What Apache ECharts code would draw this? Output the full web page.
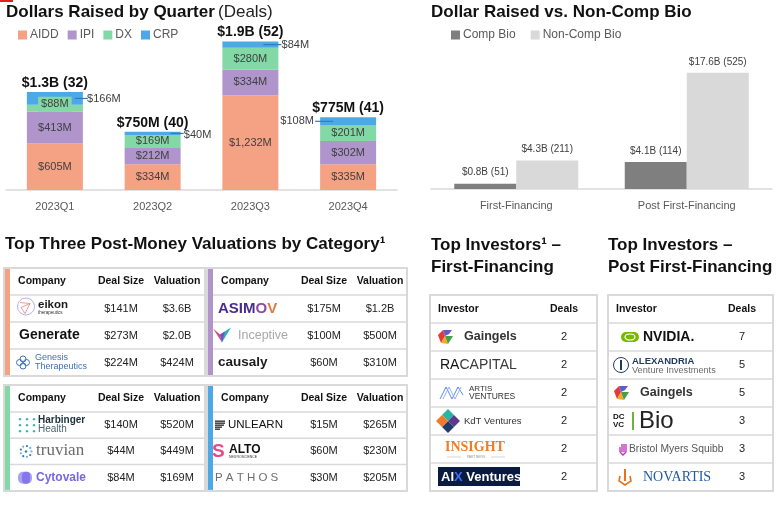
<!DOCTYPE html>
<html><head><meta charset="utf-8">
<script src="https://cdn.jsdelivr.net/npm/echarts@6/dist/echarts.min.js"></script>
<style>html,body{margin:0;padding:0;background:#fff}#c{width:782px;height:505px}</style>
</head><body><div id="c"></div>
<script>
// ---------- DATA ----------
const quarters = ['2023Q1', '2023Q2', '2023Q3', '2023Q4'];
const aidd = [605, 334, 1232, 335];
const ipi = [413, 212, 334, 302];
const dx = [88, 169, 280, 201];
const crp = [166, 40, 84, 108];
const quarterTotals = ['$1.3B (32)', '$750M (40)', '$1.9B (52)', '$775M (41)'];

const finCats = ['First-Financing', 'Post First-Financing'];
const compBio = [0.8, 4.1];
const nonCompBio = [4.3, 17.6];
const compBioLabels = ['$0.8B (51)', '$4.1B (114)'];
const nonCompBioLabels = ['$4.3B (211)', '$17.6B (525)'];

const aiddRows = [['eikon', '$141M', '$3.6B'], ['Generate', '$273M', '$2.0B'], ['Genesis', '$224M', '$424M']];
const ipiRows = [['ASIMOV', '$175M', '$1.2B'], ['Inceptive', '$100M', '$500M'], ['causaly', '$60M', '$310M']];
const dxRows = [['Harbinger', '$140M', '$520M'], ['truvian', '$44M', '$449M'], ['Cytovale', '$84M', '$169M']];
const crpRows = [['UNLEARN', '$15M', '$265M'], ['ALTO', '$60M', '$230M'], ['PATHOS', '$30M', '$205M']];
const firstInvestors = ['Gaingels', 'RACAPITAL', 'ARTIS', 'KdT', 'INSIGHT', 'AIX'];
const firstDeals = [2, 2, 2, 2, 2, 2];
const postInvestors = ['NVIDIA', 'ALEXANDRIA', 'Gaingels', 'DCVC', 'BMS', 'NOVARTIS'];
const postDeals = [7, 5, 5, 3, 3, 3];

// ---------- STYLE ----------
const FF = '"Liberation Sans", Arial, sans-serif';
const SERIF = '"Liberation Serif", "DejaVu Serif", serif';
const COL = {aidd: '#F5A183', ipi: '#AF95CB', dx: '#82D9A6', crp: '#4DA9E6', comp: '#7F7F7F', non: '#D9D9D9'};
const G = [];
function T(text, x, y, font, fill, align, extra) {
  G.push({type: 'text', x: x, y: y, silent: true, z: 10,
    style: Object.assign({text: text, font: font, fill: fill || '#222', align: align || 'left', verticalAlign: 'middle',
      textAlign: align || 'left', textVerticalAlign: 'middle'}, extra || {})});
}
function R(x, y, w, h, style, r) { G.push({type: 'rect', silent: true, z: 5, shape: r ? {x, y, width: w, height: h, r: r} : {x, y, width: w, height: h}, style: style}); }
function L(x1, y1, x2, y2, stroke, lw) { G.push({type: 'line', silent: true, z: 6, shape: {x1, y1, x2, y2}, style: {stroke: stroke, lineWidth: lw || 1}}); }
function C(cx, cy, r, style) { G.push({type: 'circle', silent: true, z: 7, shape: {cx, cy, r}, style: style}); }
function P(points, style, type) { G.push({type: type || 'polygon', silent: true, z: 7, shape: {points: points}, style: style}); }

function logo(name, x, cy) {
  switch (name) {
    case 'eikon':
      C(x + 9, cy - 2, 8.5, {fill: 'none', stroke: '#B9B0EA', lineWidth: 1});
      P([[x + 3, cy - 6], [x + 13, cy - 5], [x + 8, cy + 5], [x + 4, cy - 1], [x + 13, cy - 5]], {fill: 'none', stroke: '#E8837A', lineWidth: 0.8}, 'polyline');
      T('eikon', x + 21, cy - 3.5, 'bold 11.5px ' + FF, '#1a1a1a');
      T('therapeutics', x + 21, cy + 4.5, '4.5px ' + FF, '#333');
      break;
    case 'Generate':
      T('Generate', x, cy, 'bold 14px ' + FF, '#111');
      break;
    case 'Genesis':
      [[0, -3.5], [-3.5, 0], [3.5, 0], [0, 3.5]].forEach(o => C(x + 6 + o[0], cy + o[1], 3, {fill: 'none', stroke: '#3F71B5', lineWidth: 1}));
      T('Genesis', x + 18, cy - 4.5, '9px ' + FF, '#3F71B5');
      T('Therapeutics', x + 18, cy + 4.5, '9px ' + FF, '#3F71B5');
      break;
    case 'ASIMOV':
      T('{a|ASIM}{o|O}{v|V}', x, cy, 'bold 15px ' + FF, '#4A2C8F', 'left', {rich: {
        a: {fill: '#4A2C8F', fontSize: 15, fontWeight: 'bold', fontFamily: FF},
        o: {fill: '#8E4C9E', fontSize: 15, fontWeight: 'bold', fontFamily: FF},
        v: {fill: '#E07B3C', fontSize: 15, fontWeight: 'bold', fontFamily: FF}}});
      break;
    case 'Inceptive':
      P([[x, cy - 7], [x + 9, cy + 7], [x + 7, cy - 1]], {fill: '#D94A7A'});
      P([[x + 7, cy - 1], [x + 9, cy + 7], [x + 18, cy - 8]], {fill: '#2AB0C5'});
      P([[x + 7, cy - 1], [x + 12, cy - 4], [x + 9, cy + 7]], {fill: '#7B4FC0'});
      T('Inceptive', x + 25, cy, '12.5px ' + FF, '#A8A8A8');
      break;
    case 'causaly':
      T('causaly', x, cy, 'bold 13.5px ' + FF, '#1c1c1c');
      break;
    case 'Harbinger':
      [-6, 0, 6].forEach(dy => [0, 7, 14].forEach(dxx => C(x + 1 + dxx, cy + dy, 1.2, {fill: '#39B6A6'})));
      T('Harbinger', x + 19, cy - 4.5, 'bold 10px ' + FF, '#1B2E3C');
      T('Health', x + 19, cy + 4.5, '10px ' + FF, '#4A6470');
      break;
    case 'truvian':
      for (let k = 0; k < 9; k++) {
        const a = k / 9 * Math.PI * 2;
        C(x + 7 + Math.cos(a) * 5.5, cy + Math.sin(a) * 5.5, 1.1, {fill: k % 2 ? '#2B7BC0' : '#6FB1E3'});
      }
      C(x + 7, cy, 1.2, {fill: '#2B7BC0'});
      T('truvian', x + 17, cy - 1, '17px ' + SERIF, '#6B6B6B');
      break;
    case 'Cytovale':
      R(x, cy - 6, 14, 12, {fill: '#8E80F0', opacity: 0.75}, 5);
      R(x + 4, cy - 6, 8, 12, {fill: '#7A6BEB', opacity: 0.8}, 4);
      T('Cytovale', x + 18, cy, 'bold 12px ' + FF, '#7667E8');
      break;
    case 'UNLEARN':
      [[-4, 10], [-2, 10], [0, 9], [2, 7], [4, 5]].forEach(o => L(x, cy + o[0], x + o[1], cy + o[0], '#111', 1.2));
      T('UNLEARN', x + 13, cy, '11.5px ' + FF, '#111');
      break;
    case 'ALTO':
      T('S', x, cy, 'bold 19px ' + FF, '#E8488A');
      T('ALTO', x + 17, cy - 2, 'bold 12px ' + FF, '#111');
      T('NEUROSCIENCE', x + 17, cy + 6, '3.5px ' + FF, '#333');
      break;
    case 'PATHOS':
      T('P A T H O S', x, cy, '11.5px ' + FF, '#6E6E6E');
      break;
    case 'Gaingels':
      P([[x, cy - 2], [x + 5, cy - 7], [x + 7, cy - 1], [x + 3, cy + 6]], {fill: '#E53935'});
      P([[x + 5, cy - 7], [x + 14, cy - 7], [x + 11, cy - 3], [x + 7, cy - 1]], {fill: '#5E5CC8'});
      P([[x + 3, cy + 6], [x + 7, cy - 1], [x + 10, cy + 7]], {fill: '#F9A825'});
      P([[x + 7, cy - 1], [x + 15, cy - 1], [x + 10, cy + 7]], {fill: '#43A047'});
      T('Gaingels', x + 26, cy, 'bold 12.5px ' + FF, '#333');
      break;
    case 'RACAPITAL':
      T('{a|RA}{b|CAPITAL}', x, cy, '14px ' + FF, '#111', 'left', {rich: {
        a: {fill: '#111', fontSize: 14, fontFamily: FF},
        b: {fill: '#3a3a3a', fontSize: 14, fontFamily: FF}}});
      break;
    case 'ARTIS':
      P([[x, cy + 6], [x + 6, cy - 6], [x + 12, cy + 6], [x + 18, cy - 6], [x + 23, cy + 2]], {fill: 'none', stroke: '#5A86F0', lineWidth: 1}, 'polyline');
      P([[x + 3, cy + 6], [x + 9, cy - 6], [x + 15, cy + 6], [x + 21, cy - 6]], {fill: 'none', stroke: '#8FB0F5', lineWidth: 1}, 'polyline');
      T('ARTIS', x + 29, cy - 4, '8px ' + FF, '#333');
      T('VENTURES', x + 29, cy + 4, '8.5px ' + FF, '#333');
      break;
    case 'KdT': {
      const cx = x + 12;
      P([[cx, cy - 12], [cx + 6, cy - 6], [cx, cy], [cx - 6, cy - 6]], {fill: '#2BB3A3'});
      P([[cx + 6, cy - 6], [cx + 12, cy], [cx + 6, cy + 6], [cx, cy]], {fill: '#5B3A8E'});
      P([[cx, cy], [cx + 6, cy + 6], [cx, cy + 12], [cx - 6, cy + 6]], {fill: '#1F3A6B'});
      P([[cx - 12, cy], [cx - 6, cy - 6], [cx, cy], [cx - 6, cy + 6]], {fill: '#F07A2A'});
      T('KdT Ventures', x + 28, cy, '9.5px ' + FF, '#333');
      break;
    }
    case 'INSIGHT':
      T('INSIGHT', x, cy - 2, 'bold 14px ' + SERIF, '#F07C28');
      L(x + 2, cy + 8, x + 16, cy + 8, '#bbb', 0.6);
      L(x + 46, cy + 8, x + 60, cy + 8, '#bbb', 0.6);
      T('PARTNERS', x + 31, cy + 8, '3.5px ' + FF, '#999', 'center');
      break;
    case 'AIX':
      R(x, cy - 10, 82, 19, {fill: '#0B1B3F'});
      T('{w|AI}{b|X}{w| Ventures}', x + 3, cy, 'bold 13px ' + FF, '#fff', 'left', {rich: {
        w: {fill: '#fff', fontSize: 13, fontWeight: 'bold', fontFamily: FF},
        b: {fill: '#3B6DF5', fontSize: 13, fontWeight: 'bold', fontFamily: FF}}});
      break;
    case 'NVIDIA':
      R(x, cy - 5, 18, 10, {fill: '#76B900'}, 5);
      G.push({type: 'ellipse', silent: true, z: 8, shape: {cx: x + 9, cy: cy, rx: 5, ry: 3}, style: {fill: 'none', stroke: '#fff', lineWidth: 1.2}});
      T('NVIDIA.', x + 22, cy, 'bold 14px ' + FF, '#111');
      break;
    case 'ALEXANDRIA':
      C(x + 8, cy, 7.5, {fill: 'none', stroke: '#1F3B64', lineWidth: 1});
      L(x + 8, cy - 5, x + 8, cy + 5, '#1F3B64', 2);
      T('ALEXANDRIA', x + 19, cy - 4, 'bold 9.5px ' + FF, '#1F3B64');
      T('Venture Investments', x + 19, cy + 5, '9.2px ' + FF, '#6B6B6B');
      break;
    case 'DCVC':
      T('DC', x, cy - 4, 'bold 8px ' + FF, '#111');
      T('VC', x, cy + 4, 'bold 8px ' + FF, '#111');
      L(x + 20, cy - 9, x + 20, cy + 9, '#6CB33F', 2);
      T('Bio', x + 26, cy, '24px ' + FF, '#222');
      break;
    case 'BMS':
      [0, 2, 4, 6].forEach((o, i) => L(x + o, cy - 5 + (i === 0 ? 3 : 0), x + o, cy + 3, '#BE2BBB', 1.3));
      P([[x, cy + 3], [x + 3, cy + 6], [x + 6, cy + 3]], {fill: 'none', stroke: '#BE2BBB', lineWidth: 1.3}, 'polyline');
      T('Bristol Myers Squibb', x + 9, cy, '10.3px ' + FF, '#555');
      break;
    case 'NOVARTIS':
      P([[x + 1, cy - 1], [x, cy + 4], [x + 6, cy + 8], [x + 12, cy + 4], [x + 11, cy - 1]], {fill: 'none', stroke: '#E8711A', lineWidth: 1.6}, 'polyline');
      L(x + 6, cy - 8, x + 6, cy + 4, '#E8711A', 2);
      T('NOVARTIS', x + 24, cy, '14px ' + SERIF, '#1F5AA6');
      break;
  }
}

// ---------- TITLES ----------
R(0, 0, 13, 2, {fill: '#E0201B'});
T('Dollars Raised by Quarter', 6, 12, 'bold 17px ' + FF, '#111');
T('(Deals)', 218, 12, '17px ' + FF, '#222');
T('Dollar Raised vs. Non-Comp Bio', 431, 12, 'bold 17px ' + FF, '#111');
T('Top Three Post-Money Valuations by Category¹', 5, 244, 'bold 17px ' + FF, '#111');
T('Top Investors¹ –', 431, 245, 'bold 17px ' + FF, '#111');
T('First-Financing', 431, 267, 'bold 17px ' + FF, '#111');
T('Top Investors –', 608, 245, 'bold 17px ' + FF, '#111');
T('Post First-Financing', 608, 267, 'bold 17px ' + FF, '#111');

// ---------- VALUATION TABLES ----------
const BORDER = '#D9D9D9';
function valTable(x0, y0, w, hh, rh, color, rows, logoX) {
  const H = hh + rh * rows.length;
  R(x0, y0, w, H, {fill: '#fff', stroke: BORDER, lineWidth: 2});
  R(x0 + 1, y0 + 1, 5, H - 2, {fill: color});
  for (let k = 0; k < rows.length; k++) L(x0 + 6, y0 + hh + rh * k, x0 + w, y0 + hh + rh * k, BORDER, 1.5);
  T('Company', x0 + 38, y0 + hh / 2, 'bold 10.5px ' + FF, '#111', 'center');
  T('Deal Size', x0 + 117, y0 + hh / 2, 'bold 10.5px ' + FF, '#111', 'center');
  T('Valuation', x0 + 173, y0 + hh / 2, 'bold 10.5px ' + FF, '#111', 'center');
  rows.forEach((r, i) => {
    const cy = y0 + hh + rh * i + rh / 2;
    logo(r[0], logoX[i], cy);
    T(r[1], x0 + 117, cy, '11px ' + FF, '#222', 'center');
    T(r[2], x0 + 173, cy, '11px ' + FF, '#222', 'center');
  });
}
valTable(4, 268, 201, 27, 27, COL.aidd, aiddRows, [17, 19, 17]);
valTable(207, 268, 200, 27, 27, COL.ipi, ipiRows, [218, 213, 218]);
valTable(4, 385, 201, 27, 26.3, COL.dx, dxRows, [19, 19, 18]);
valTable(207, 385, 200, 27, 26.3, COL.crp, crpRows, [215, 212, 215]);

// ---------- INVESTOR TABLES ----------
function invTable(x0, y0, w, rh, names, deals, logoX) {
  const H = rh * (names.length + 1);
  R(x0, y0, w, H, {fill: '#fff', stroke: BORDER, lineWidth: 2});
  for (let k = 1; k <= names.length; k++) L(x0, y0 + rh * k, x0 + w, y0 + rh * k, BORDER, 1.5);
  T('Investor', x0 + 8, y0 + rh / 2, 'bold 10.5px ' + FF, '#111');
  T('Deals', x0 + 134, y0 + rh / 2, 'bold 10.5px ' + FF, '#111', 'center');
  names.forEach((n, i) => {
    const cy = y0 + rh * (i + 1) + rh / 2;
    logo(n, logoX[i], cy);
    T(String(deals[i]), x0 + 134, cy, '11px ' + FF, '#222', 'center');
  });
}
invTable(430, 295, 167, 28, firstInvestors, firstDeals, [438, 440, 440, 436, 445, 438]);
invTable(608, 295, 165, 28, postInvestors, postDeals, [621, 613, 614, 613, 620, 619]);

// ---------- CHARTS ----------
const inLabel = {show: true, position: 'inside', color: '#404040', fontSize: 11, fontFamily: FF,
  formatter: p => '$' + Number(p.value).toLocaleString('en-US') + 'M'};
const crpShift = [[49, 1], [45, 2], [45, 0], [-51, 0]];
const leaderSpan = [[20, 33], [18, 31], [13, 31], [-15, -33]];

const option = {
  animation: false,
  textStyle: {fontFamily: FF},
  legend: [
    {data: ['AIDD', 'IPI', 'DX', 'CRP'], left: 13, top: 24, icon: 'rect', itemWidth: 9, itemHeight: 9, itemGap: 9,
      textStyle: {fontSize: 12, color: '#595959', fontFamily: FF, padding: [0, 0, 0, -2]}, selectedMode: false},
    {data: ['Comp Bio', 'Non-Comp Bio'], left: 446, top: 24, icon: 'rect', itemWidth: 9, itemHeight: 9, itemGap: 15,
      textStyle: {fontSize: 12, color: '#595959', fontFamily: FF, padding: [0, 0, 0, -2]}, selectedMode: false}
  ],
  grid: [
    {left: 6, right: 385, top: 36, bottom: 315, containLabel: false, outerBoundsMode: 'none'},
    {left: 431, right: 10, top: 57, bottom: 316, containLabel: false, outerBoundsMode: 'none'}
  ],
  xAxis: [
    {type: 'category', gridIndex: 0, data: quarters, axisLine: {lineStyle: {color: '#D9D9D9', width: 1.5}}, axisTick: {show: false},
      axisLabel: {color: '#595959', fontSize: 11, margin: 11, fontFamily: FF}},
    {type: 'category', gridIndex: 1, data: finCats, axisLine: {lineStyle: {color: '#D9D9D9', width: 1.5}}, axisTick: {show: false},
      axisLabel: {color: '#595959', fontSize: 11, margin: 11, fontFamily: FF}}
  ],
  yAxis: [
    {type: 'value', gridIndex: 0, min: 0, max: 2000, show: false},
    {type: 'value', gridIndex: 1, min: 0, max: 20, show: false}
  ],
  graphic: {elements: G},
  series: [
    {name: 'AIDD', type: 'bar', stack: 'q', barWidth: 56, data: aidd, itemStyle: {color: COL.aidd}, label: inLabel},
    {name: 'IPI', type: 'bar', stack: 'q', data: ipi, itemStyle: {color: COL.ipi}, label: inLabel},
    {name: 'DX', type: 'bar', stack: 'q', itemStyle: {color: COL.dx}, label: inLabel,
      data: dx.map((v, i) => i === 0 ? {value: v, label: {backgroundColor: COL.dx, padding: [2, 3], offset: [0, -4]}} : v)},
    {name: 'CRP', type: 'bar', stack: 'q', data: crp, itemStyle: {color: COL.crp}, label: inLabel,
      labelLayout: p => ({dx: crpShift[p.dataIndex][0], dy: crpShift[p.dataIndex][1]})},
    {name: 'Total', type: 'bar', stack: 'q', data: quarters.map(() => 0), itemStyle: {color: 'transparent'},
      label: {show: true, position: 'top', distance: 2, formatter: p => quarterTotals[p.dataIndex],
        fontSize: 14, fontWeight: 'bold', color: '#111', fontFamily: FF}},
    {name: 'CRP leader', type: 'custom', xAxisIndex: 0, yAxisIndex: 0, silent: true, z: 5,
      data: quarters.map((q, i) => [i, aidd[i] + ipi[i] + dx[i] + crp[i] / 2]),
      renderItem: (params, api) => {
        const p = api.coord([api.value(0), api.value(1)]);
        const s = leaderSpan[params.dataIndex];
        return {type: 'line', shape: {x1: p[0] + s[0], y1: p[1], x2: p[0] + s[1], y2: p[1]}, style: {stroke: '#2E7CC4', lineWidth: 1.2}};
      }},
    {name: 'Comp Bio', type: 'bar', xAxisIndex: 1, yAxisIndex: 1, barWidth: 62, barGap: '0%', data: compBio,
      itemStyle: {color: COL.comp}, label: {show: true, position: 'top', distance: 6, fontSize: 10, color: '#404040',
        fontFamily: FF, formatter: p => compBioLabels[p.dataIndex]}},
    {name: 'Non-Comp Bio', type: 'bar', xAxisIndex: 1, yAxisIndex: 1, barWidth: 62, barGap: '0%', data: nonCompBio,
      itemStyle: {color: COL.non}, label: {show: true, position: 'top', distance: 6, fontSize: 10, color: '#404040',
        fontFamily: FF, formatter: p => nonCompBioLabels[p.dataIndex]}}
  ]
};
const chart = echarts.init(document.getElementById('c'), null, {renderer: 'canvas'});
chart.setOption(option);
</script>
</body></html>
